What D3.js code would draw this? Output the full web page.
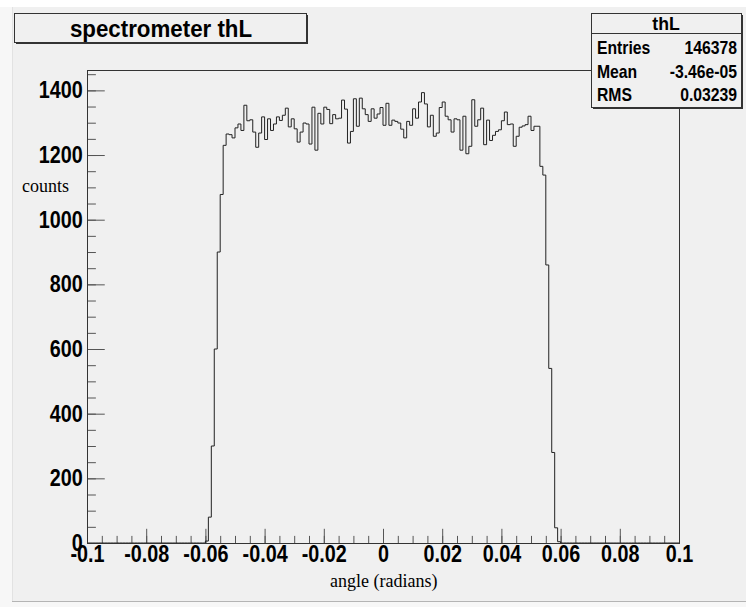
<!DOCTYPE html>
<html>
<head>
<meta charset="utf-8">
<script src="https://cdn.jsdelivr.net/npm/d3@7/dist/d3.min.js"></script>
<style>
    body { margin: 0; background: #ffffff; }
    svg text { font-family: "Liberation Sans", Arial, Helvetica, sans-serif; }
    .serif { font-family: "Liberation Serif", "Times New Roman", serif !important; }
</style>
</head>
<body>
<svg id="canvas" width="746" height="607"></svg>
<script>
    // histogram binning (TH1 style): 200 bins from -0.1 to 0.1
    var binLow = -0.1;
    var binHigh = 0.1;
    var nBins = 200;
    var firstFilledBin = 40; // bins before this one are empty

    // counts of bins 40 .. 159 (all other bins are 0)
    var binCounts = [
        6, 80, 300, 600, 900, 1078, 1230,
        1265, 1263, 1253, 1284, 1296, 1276, 1354, 1306, 1309, 1271,
        1224, 1268, 1318, 1248, 1312, 1276, 1296, 1318, 1307, 1323,
        1345, 1287, 1312, 1281, 1240, 1271, 1299, 1296, 1234, 1348,
        1215, 1329, 1296, 1348, 1341, 1297, 1325, 1312, 1314, 1370,
        1342, 1237, 1273, 1374, 1289, 1376, 1343, 1325, 1304, 1343,
        1314, 1327, 1347, 1292, 1360, 1292, 1308, 1304, 1299, 1280,
        1253, 1304, 1292, 1343, 1314, 1364, 1393, 1358, 1287, 1323,
        1258, 1268, 1347, 1364, 1320, 1309, 1271, 1312, 1309, 1215,
        1320, 1204, 1227, 1371, 1289, 1309, 1345, 1232, 1308, 1245,
        1261, 1273, 1278, 1306, 1333, 1294, 1296, 1227, 1258, 1286,
        1290, 1294, 1320, 1276, 1289, 1289,
        1165, 1138, 860, 540, 280, 47, 4
    ];

    var xTicks = [-0.1, -0.08, -0.06, -0.04, -0.02, 0, 0.02, 0.04, 0.06, 0.08, 0.1];
    var xTickLabels = ['-0.1', '-0.08', '-0.06', '-0.04', '-0.02', '0', '0.02', '0.04', '0.06', '0.08', '0.1'];
    var xMinorStep = 0.005;
    var yTicks = [0, 200, 400, 600, 800, 1000, 1200, 1400];
    var yMinorStep = 50;
    var yMax = 1463;

    var histTitle = 'spectrometer thL';
    var statName = 'thL';
    var statLabels = ['Entries', 'Mean', 'RMS'];
    var statValues = ['146378', '-3.46e-05', '0.03239'];

    var svg = d3.select('#canvas');
    var W = 746, H = 607;
    var bg = '#f0f0f0';

    // canvas background + window edge
    svg.append('rect').attr('x', 0).attr('y', 0).attr('width', W).attr('height', H).attr('fill', '#f7f7f7');
    svg.append('rect').attr('x', 0).attr('y', 0).attr('width', W).attr('height', 7).attr('fill', '#ffffff');
    svg.append('rect').attr('x', 12).attr('y', 7).attr('width', W - 12).attr('height', 594).attr('fill', bg);
    svg.append('line').attr('x1', 12).attr('x2', W).attr('y1', 601.5).attr('y2', 601.5).attr('stroke', '#b4b4b4');
    svg.append('line').attr('x1', 12.5).attr('x2', 12.5).attr('y1', 7).attr('y2', 601).attr('stroke', '#e2e2e2');

    var frame = { left: 87, top: 70, right: 679, bottom: 543 };
    var x = d3.scaleLinear().domain([binLow, binHigh]).range([frame.left, frame.right]);
    var y = d3.scaleLinear().domain([0, yMax]).range([frame.bottom, frame.top]);

    var frameH = frame.bottom - frame.top;
    var frameW = frame.right - frame.left;

    // minor ticks (drawn into the frame, root style)
    var xMinor = d3.range(Math.round((binHigh - binLow) / xMinorStep) + 1).map(function(i) {
        return binLow + i * xMinorStep;
    });
    var yMinor = d3.range(0, yMax, yMinorStep);

    svg.append('g')
        .attr('transform', 'translate(0,' + frame.bottom + ')')
        .call(d3.axisBottom(x).tickValues(xMinor).tickSizeInner(-frameH * 0.015).tickSizeOuter(0).tickFormat(''))
        .call(function(g) { g.select('.domain').remove(); g.selectAll('line').attr('stroke', '#555'); });

    svg.append('g')
        .attr('transform', 'translate(' + frame.left + ',0)')
        .call(d3.axisLeft(y).tickValues(yMinor).tickSizeInner(-frameW * 0.015).tickSizeOuter(0).tickFormat(''))
        .call(function(g) { g.select('.domain').remove(); g.selectAll('line').attr('stroke', '#555'); });

    // major ticks + labels (root fonts are a little narrower than arial, so squeeze them)
    var xAxis = svg.append('g')
        .attr('transform', 'translate(0,' + frame.bottom + ')')
        .call(d3.axisBottom(x).tickValues(xTicks).tickSizeInner(-frameH * 0.03).tickSizeOuter(0).tickPadding(3)
            .tickFormat(function(d, i) { return xTickLabels[i]; }));
    xAxis.select('.domain').remove();
    xAxis.selectAll('line').attr('stroke', '#555');
    xAxis.selectAll('text').attr('fill', '#000').attr('transform', 'scale(0.86,1)')
        .style('font-size', '23px').style('font-weight', 'bold');

    var yAxis = svg.append('g')
        .attr('transform', 'translate(' + frame.left + ',0)')
        .call(d3.axisLeft(y).tickValues(yTicks).tickSizeInner(-frameW * 0.03).tickSizeOuter(0).tickPadding(5)
            .tickFormat(d3.format('d')));
    yAxis.select('.domain').remove();
    yAxis.selectAll('line').attr('stroke', '#555');
    yAxis.selectAll('text').attr('fill', '#000').attr('transform', 'scale(0.86,1)')
        .style('font-size', '23px').style('font-weight', 'bold');

    // histogram outline
    var points = [];
    for (var i = 0; i < nBins; i++) {
        var k = i - firstFilledBin;
        var v = (k >= 0 && k < binCounts.length) ? binCounts[k] : 0;
        var lo = binLow + i * (binHigh - binLow) / nBins;
        var hi = binLow + (i + 1) * (binHigh - binLow) / nBins;
        points.push([lo, v], [hi, v]);
    }
    var line = d3.line().x(function(d) { return x(d[0]); }).y(function(d) { return y(d[1]); });
    svg.append('path')
        .datum(points)
        .attr('d', line)
        .attr('fill', 'none')
        .attr('stroke', '#222')
        .attr('stroke-width', 1);

    // frame
    svg.append('rect')
        .attr('x', frame.left + 0.5).attr('y', frame.top + 0.5)
        .attr('width', frameW).attr('height', frameH)
        .attr('fill', 'none').attr('stroke', '#333');

    // axis titles
    svg.append('text').attr('class', 'serif')
        .attr('x', 22).attr('y', 192)
        .style('font-size', '18px').text('counts');
    svg.append('text').attr('class', 'serif')
        .attr('x', 330).attr('y', 587)
        .style('font-size', '18px').text('angle (radians)');

    // title pave
    function pave(x0, y0, w, h) {
        svg.append('rect').attr('x', x0 + 2).attr('y', y0 + 2).attr('width', w).attr('height', h).attr('fill', '#333');
        svg.append('rect').attr('x', x0 + 0.5).attr('y', y0 + 0.5).attr('width', w).attr('height', h)
            .attr('fill', bg).attr('stroke', '#333');
    }
    pave(14, 13, 292, 29);
    svg.append('text').attr('transform', 'translate(161,37) scale(0.93,1)').attr('text-anchor', 'middle')
        .style('font-size', '24px').style('font-weight', 'bold').text(histTitle);

    // stats pave
    pave(591, 13, 150, 94);
    svg.append('line').attr('x1', 591).attr('x2', 741).attr('y1', 33.5).attr('y2', 33.5).attr('stroke', '#333');
    svg.append('text').attr('transform', 'translate(666,30) scale(0.93,1)').attr('text-anchor', 'middle')
        .style('font-size', '19px').style('font-weight', 'bold').text(statName);
    statLabels.forEach(function(lab, j) {
        var yy = 54 + j * 23.5;
        svg.append('text').attr('transform', 'translate(597,' + yy + ') scale(0.9,1)')
            .style('font-size', '17.5px').style('font-weight', 'bold').text(lab);
        svg.append('text').attr('transform', 'translate(737,' + yy + ') scale(0.9,1)').attr('text-anchor', 'end')
            .style('font-size', '17.5px').style('font-weight', 'bold').text(statValues[j]);
    });
</script>
</body>
</html>
